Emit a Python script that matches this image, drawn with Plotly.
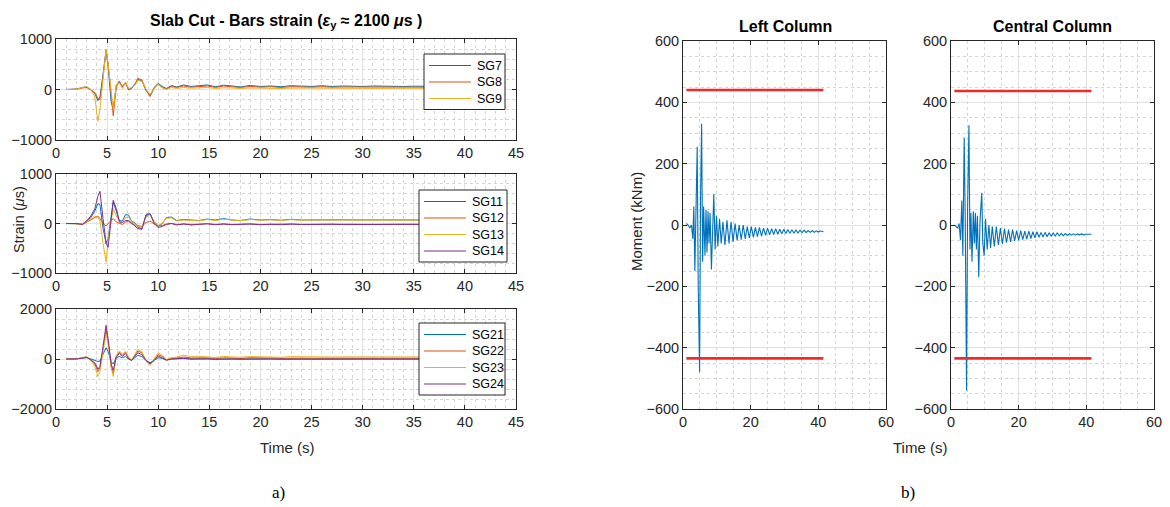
import plotly.graph_objects as go

# ---------------- data: strain (a) ----------------
t_strain = [1.0, 2.0, 2.6, 3.0, 3.4, 3.8, 4.1, 4.3, 4.6, 4.9, 5.1, 5.4, 5.6, 5.9, 6.2, 6.5, 6.8,
            7.1, 7.4, 7.7, 8.0, 8.4, 8.8, 9.2, 9.6, 10.0, 10.4, 10.8, 11.3, 11.8, 12.5, 13.2,
            14.0, 14.8, 15.6, 16.4, 17.2, 18.0, 19.0, 20.0, 21.0, 22.0, 23.0, 24.0, 25.0, 26.0,
            27.0, 28.0, 29.0, 30.0, 31.0, 32.0, 33.0, 34.0, 35.0, 36.0, 38.0, 40.0, 42.0]

SG7 = [0, 10, 40, 50, 0, -80, -220, -150, 300, 780, 450, -250, -380, 80, 150, 60, 140, 0, 30, 100,
       200, 170, -20, -120, 40, 120, 60, 20, 80, 50, 90, 60, 75, 90, 55, 85, 70, 50, 80, 60, 70, 55,
       75, 65, 60, 75, 60, 70, 65, 60, 70, 62, 68, 60, 65, 62, 64, 62, 63]
SG8 = [0, 5, 30, 40, -10, -60, -180, -200, 250, 760, 500, -150, -520, 50, 170, 40, 130, -10, 20, 90,
       220, 190, 0, -140, 20, 110, 40, 10, 60, 40, 70, 45, 60, 70, 40, 70, 55, 40, 60, 45, 55, 40,
       55, 50, 45, 55, 45, 50, 48, 45, 50, 46, 50, 45, 48, 46, 47, 46, 47]
SG9 = [0, 5, 40, 60, 0, -150, -630, -400, 200, 800, 520, -100, -400, 100, 130, 20, 150, 20, 40, 80,
       180, 160, 10, -100, 20, 100, 30, 0, 40, 20, 40, 25, 35, 40, 20, 35, 30, 20, 30, 25, 30, 20,
       28, 25, 22, 28, 22, 25, 24, 22, 25, 23, 25, 22, 24, 23, 24, 23, 24]

SG11 = [0, 0, -10, 60, 120, 250, 400, 380, -100, -400, -300, 150, 430, 250, 60, 50, 180, 170, 40, 20,
        -80, -100, 150, 200, 40, -60, 0, 120, 130, 60, 80, 70, 60, 90, 70, 100, 70, 60, 90, 70, 80, 65,
        85, 70, 75, 80, 70, 75, 72, 70, 75, 72, 74, 72, 73, 72, 73, 72, 73]
SG12 = [0, 0, -20, 30, 80, 120, 150, 100, 0, -50, 0, 60, 100, 30, 0, -20, 30, 40, 0, -30,
        -40, -60, 20, 50, -10, -50, -40, -10, 0, -20, -10, -20, -15, -5, -20, -10, -20, -15, -10, -20,
        -15, -20, -10, -18, -15, -20, -12, -18, -15, -18, -15, -16, -15, -17, -15, -16, -15, -16, -15]
SG13 = [0, 0, -10, 40, 100, 150, 120, 50, -400, -780, -300, 100, 300, 150, 40, 30, 120, 130, 30, 0,
        -60, -80, 120, 180, 30, -40, 10, 110, 110, 50, 70, 60, 55, 80, 60, 85, 65, 55, 80, 65, 75, 60,
        78, 65, 70, 75, 65, 70, 68, 66, 70, 68, 70, 68, 69, 68, 69, 68, 69]
SG14 = [0, 0, -20, 50, 150, 300, 550, 650, 100, -400, -480, 100, 470, 300, 30, 20, 60, 60, 0, -40,
        -100, -120, 180, 200, 0, -80, -60, -20, 0, -30, -10, -30, -20, -5, -25, -10, -25, -20, -10, -25,
        -15, -25, -12, -22, -18, -25, -15, -22, -18, -20, -18, -20, -18, -20, -19, -20, -19, -20, -19]

SG21 = [0, 0, 30, 60, 0, -50, -100, -80, 200, 450, 300, -100, -200, 50, 100, 50, 100, 0, -50, 50,
        150, 100, -50, -150, -50, 50, 30, -30, 0, 10, 20, 0, 10, 5, -10, 5, 0, -5, 5, 0, 5, -5,
        0, 5, 0, -5, 0, 5, 0, 0, 5, 0, 0, 0, 0, 0, 0, 0, 0]
SG22 = [0, 0, 50, 80, -50, -200, -500, -350, 400, 1150, 700, -300, -600, 100, 280, 150, 280, 30, -50, 150,
        320, 250, -50, -200, -50, 180, 100, -40, 20, 40, 80, 40, 60, 50, 20, 50, 40, 20, 50, 30, 40, 25,
        45, 35, 30, 40, 30, 35, 32, 30, 35, 32, 34, 32, 33, 32, 33, 32, 33]
SG23 = [0, 0, 60, 100, -50, -300, -700, -500, 300, 1000, 650, -350, -700, 150, 320, 200, 300, 60, -30, 200,
        380, 300, -80, -250, 0, 250, 150, -20, 60, 80, 150, 90, 110, 100, 60, 100, 90, 70, 100, 80, 90, 70,
        95, 85, 80, 90, 80, 85, 82, 80, 85, 82, 84, 82, 83, 82, 83, 82, 83]
SG24 = [0, 0, 40, 70, -30, -150, -400, -300, 500, 1350, 800, -200, -450, 80, 220, 100, 220, 20, -60, 100,
        250, 180, -60, -180, -60, 120, 50, -50, 0, 10, 30, 0, 10, 5, -10, 5, 0, -5, 5, -5, 0, -5,
        5, 0, -5, 0, 0, 5, 0, -3, 0, 0, -2, 0, -1, 0, 0, 0, 0]

strain_x_ticks = [0, 5, 10, 15, 20, 25, 30, 35, 40, 45]

# ---------------- data: moments (b) ----------------
t_left = [1.0, 1.5, 2.0, 2.5, 2.9, 3.2, 3.5, 3.8, 4.2, 4.5, 4.9, 5.2, 5.5, 5.8, 6.1, 6.5, 6.8,
          7.1, 7.4, 7.7, 8.0, 8.4, 8.8, 9.1, 9.5, 9.9, 10.3, 10.8, 11.3, 11.8,
          12.4, 13.0, 13.6, 14.2, 14.8, 15.4, 16.0, 16.6, 17.2, 17.8, 18.4, 19.0, 19.6, 20.2, 20.8,
          21.4, 22.0, 22.6, 23.2, 23.8, 24.4, 25.0, 25.6, 26.2, 26.8, 27.4, 28.0, 28.6, 29.2, 29.8,
          30.4, 31.0, 31.6, 32.2, 32.8, 33.4, 34.0, 34.6, 35.2, 35.8, 36.4, 37.0, 37.6, 38.2, 38.8,
          39.4, 40.0, 40.6, 41.2, 41.5]
M_left = [5, 0, -10, 0, -45, 60, -150, 80,
          255, -200, -480, 100, 330, -120, 60, -100, 50,
          -90, 45, -60, 40, -145, 20, 100, -80, 30,
          -70, 20, -60, 10,
          -65, 15, -60, 10, -55, 5, -50, 0, -48, 0, -45, -5, -42, -5, -40, -8, -38, -8, -36, -10,
          -34, -10, -32, -12, -31, -12, -30, -14, -29, -14, -28, -15, -27, -16, -26, -16, -26, -17,
          -25, -17, -25, -18, -24, -18, -24, -19, -23, -19, -22, -20]

t_central = [1.0, 1.5, 2.0, 2.4, 2.8, 3.2, 3.5, 3.9, 4.2, 4.6, 4.9, 5.3, 5.6, 5.9, 6.2, 6.6, 6.9,
             7.2, 7.5, 7.8, 8.2, 8.6, 9.1, 9.4, 9.8, 10.2, 10.7, 11.2, 11.7, 12.2,
             12.8, 13.4, 14.0, 14.6, 15.2, 15.8, 16.4, 17.0, 17.6, 18.2, 18.8, 19.4, 20.0, 20.6,
             21.2, 21.8, 22.4, 23.0, 23.6, 24.2, 24.8, 25.4, 26.0, 26.6, 27.2, 27.8, 28.4, 29.0,
             29.6, 30.2, 30.8, 31.4, 32.0, 32.6, 33.2, 33.8, 34.4, 35.0, 35.6, 36.2, 36.8, 37.4,
             38.0, 38.6, 39.2, 39.8, 40.4, 41.0, 41.5]
M_central = [0, -5, -10, 5, -50, 80, -100, 285, 30, -540, 50, 325, -80, 40, -120, 45, -60,
             40, -80, 30, -170, 20, 105, -60, -100, 20, -80, 0, -75, -5,
             -70, -5, -65, -10, -62, -12, -58, -15, -55, -15, -52, -18, -50, -18, -48, -20,
             -46, -20, -44, -22, -42, -22, -40, -24, -39, -24, -38, -25, -37, -26, -36, -26,
             -35, -27, -35, -28, -34, -28, -33, -29, -33, -29, -32, -29, -32, -30, -31, -30, -30]

cap_t = [1.0, 41.5]
cap_left_pos = [440, 440]
cap_left_neg = [-435, -435]
cap_central_pos = [437, 437]
cap_central_neg = [-435, -435]

# ---------------- styling ----------------
C1, C2, C3, C4 = "#0072BD", "#D95319", "#EDB120", "#7E2F8E"
RED = "#EE2A2A"
FONT = "Liberation Sans, Arial, Helvetica, sans-serif"
INK = "#262626"
PAGE_OFF = 8                       # default body margin of the html page
W, H = 1170 - PAGE_OFF, 507 - PAGE_OFF


def px_x(p):
    return (p - PAGE_OFF) / W


def px_y(p):
    return 1 - (p - PAGE_OFF) / H


fig = go.Figure()


def add(x, y, name, color, ax, width=1.0):
    fig.add_trace(go.Scatter(x=x, y=y, name=name, mode="lines",
                             line=dict(color=color, width=width),
                             xaxis="x" + ax, yaxis="y" + ax,
                             showlegend=False, hoverinfo="skip"))


panel_a = [
    ("", [("SG7", SG7, C1), ("SG8", SG8, C2), ("SG9", SG9, C3)]),
    ("2", [("SG11", SG11, C1), ("SG12", SG12, C2), ("SG13", SG13, C3), ("SG14", SG14, C4)]),
    ("3", [("SG21", SG21, C1), ("SG22", SG22, C2), ("SG23", SG23, C3), ("SG24", SG24, C4)]),
]
for ax, series in panel_a:
    for name, vals, col in series:
        add(t_strain, vals, name, col, ax)

add(t_left, M_left, "Left Column", C1, "4", width=1.1)
add(cap_t, cap_left_pos, "capacity +", RED, "4", width=2.6)
add(cap_t, cap_left_neg, "capacity -", RED, "4", width=2.6)
add(t_central, M_central, "Central Column", C1, "5", width=1.1)
add(cap_t, cap_central_pos, "capacity +", RED, "5", width=2.6)
add(cap_t, cap_central_neg, "capacity -", RED, "5", width=2.6)


def axis(domain, rng, dtick, mdtick, anchor, tickvals=None):
    d = dict(domain=domain, range=rng, anchor=anchor, tick0=0, dtick=dtick,
             showline=True, linecolor=INK, linewidth=1, mirror="ticks",
             ticks="inside", ticklen=4, tickcolor=INK, tickwidth=1,
             showgrid=True, gridcolor="#e2e2e2", gridwidth=1, zeroline=False,
             minor=dict(tick0=0, dtick=mdtick, showgrid=True, gridcolor="#d4d4d4",
                        griddash="dot", gridwidth=1, ticks=""),
             tickfont=dict(family=FONT, size=14.5, color=INK), fixedrange=True,
             automargin=False)
    if tickvals is not None:
        d["tickmode"] = "array"
        d["tickvals"] = tickvals
        d.pop("dtick")
    return d


xa = [px_x(56), px_x(516)]
fig.update_layout(
    xaxis=axis(xa, [0, 45], 5, 1, "y", strain_x_ticks),
    yaxis=axis([px_y(140), px_y(39)], [-1000, 1000], 1000, 200, "x"),
    xaxis2=axis(xa, [0, 45], 5, 1, "y2", strain_x_ticks),
    yaxis2=axis([px_y(273), px_y(174)], [-1000, 1000], 1000, 200, "x2"),
    xaxis3=axis(xa, [0, 45], 5, 1, "y3", strain_x_ticks),
    yaxis3=axis([px_y(409), px_y(309)], [-2000, 2000], 2000, 400, "x3"),
    xaxis4=axis([px_x(683), px_x(886)], [0, 60], 20, 5, "y4"),
    yaxis4=axis([px_y(409), px_y(41)], [-600, 600], 200, 50, "x4"),
    xaxis5=axis([px_x(951), px_x(1154)], [0, 60], 20, 5, "y5"),
    yaxis5=axis([px_y(409), px_y(41)], [-600, 600], 200, 50, "x5"),
    width=W, height=H, margin=dict(l=0, r=0, t=0, b=0, autoexpand=False),
    paper_bgcolor="white", plot_bgcolor="white",
    font=dict(family=FONT, color=INK), showlegend=False,
)


def note(text, x, y, size=15, angle=0, family=FONT, color=INK, xanchor="center"):
    fig.add_annotation(text=text, x=px_x(x), y=px_y(y), xref="paper", yref="paper",
                       showarrow=False, xanchor=xanchor, yanchor="middle", textangle=angle,
                       font=dict(family=family, size=size, color=color))


# boxed legends (MATLAB style), drawn on top of the curves
legend_boxes = [
    (panel_a[0][1], 424, 505, 54, 429, 471, 475),
    (panel_a[1][1], 419, 507, 190, 424, 466, 470),
    (panel_a[2][1], 419, 505, 323, 424, 466, 470),
]
ROW = 16.5
for series, bx0, bx1, by0, lx0, lx1, tx in legend_boxes:
    by1 = by0 + ROW * len(series) + 6
    fig.add_shape(type="rect", xref="paper", yref="paper",
                  x0=px_x(bx0), x1=px_x(bx1), y0=px_y(by1), y1=px_y(by0),
                  fillcolor="white", line=dict(color=INK, width=1), layer="above")
    for i, (name, _, col) in enumerate(series):
        yc = by0 + 11.5 + ROW * i
        fig.add_shape(type="line", xref="paper", yref="paper",
                      x0=px_x(lx0), x1=px_x(lx1), y0=px_y(yc), y1=px_y(yc),
                      line=dict(color=col, width=1.2), layer="above")
        note(name, tx, yc, size=12.5, color="#000000", xanchor="left")

note("<b>Slab Cut - Bars strain (<i>ε</i><sub>y</sub> ≈ 2100 <i>μ</i>s )</b>", 286, 21, size=16, color="#000000")
note("Strain (<i>μ</i>s)", 19, 220, size=14.5, angle=-90)
note("Time (s)", 287, 447)
note("<b>Left Column</b>", 785, 26, size=16, color="#000000")
note("<b>Central Column</b>", 1052, 26, size=16, color="#000000")
note("Moment (kNm)", 636, 222, angle=-90)
note("Time (s)", 920, 447)
note("a)", 278, 492, size=17, family="Liberation Serif, Times New Roman, serif", color="#000000")
note("b)", 908, 492, size=17, family="Liberation Serif, Times New Roman, serif", color="#000000")

fig.write_html("out.html")
